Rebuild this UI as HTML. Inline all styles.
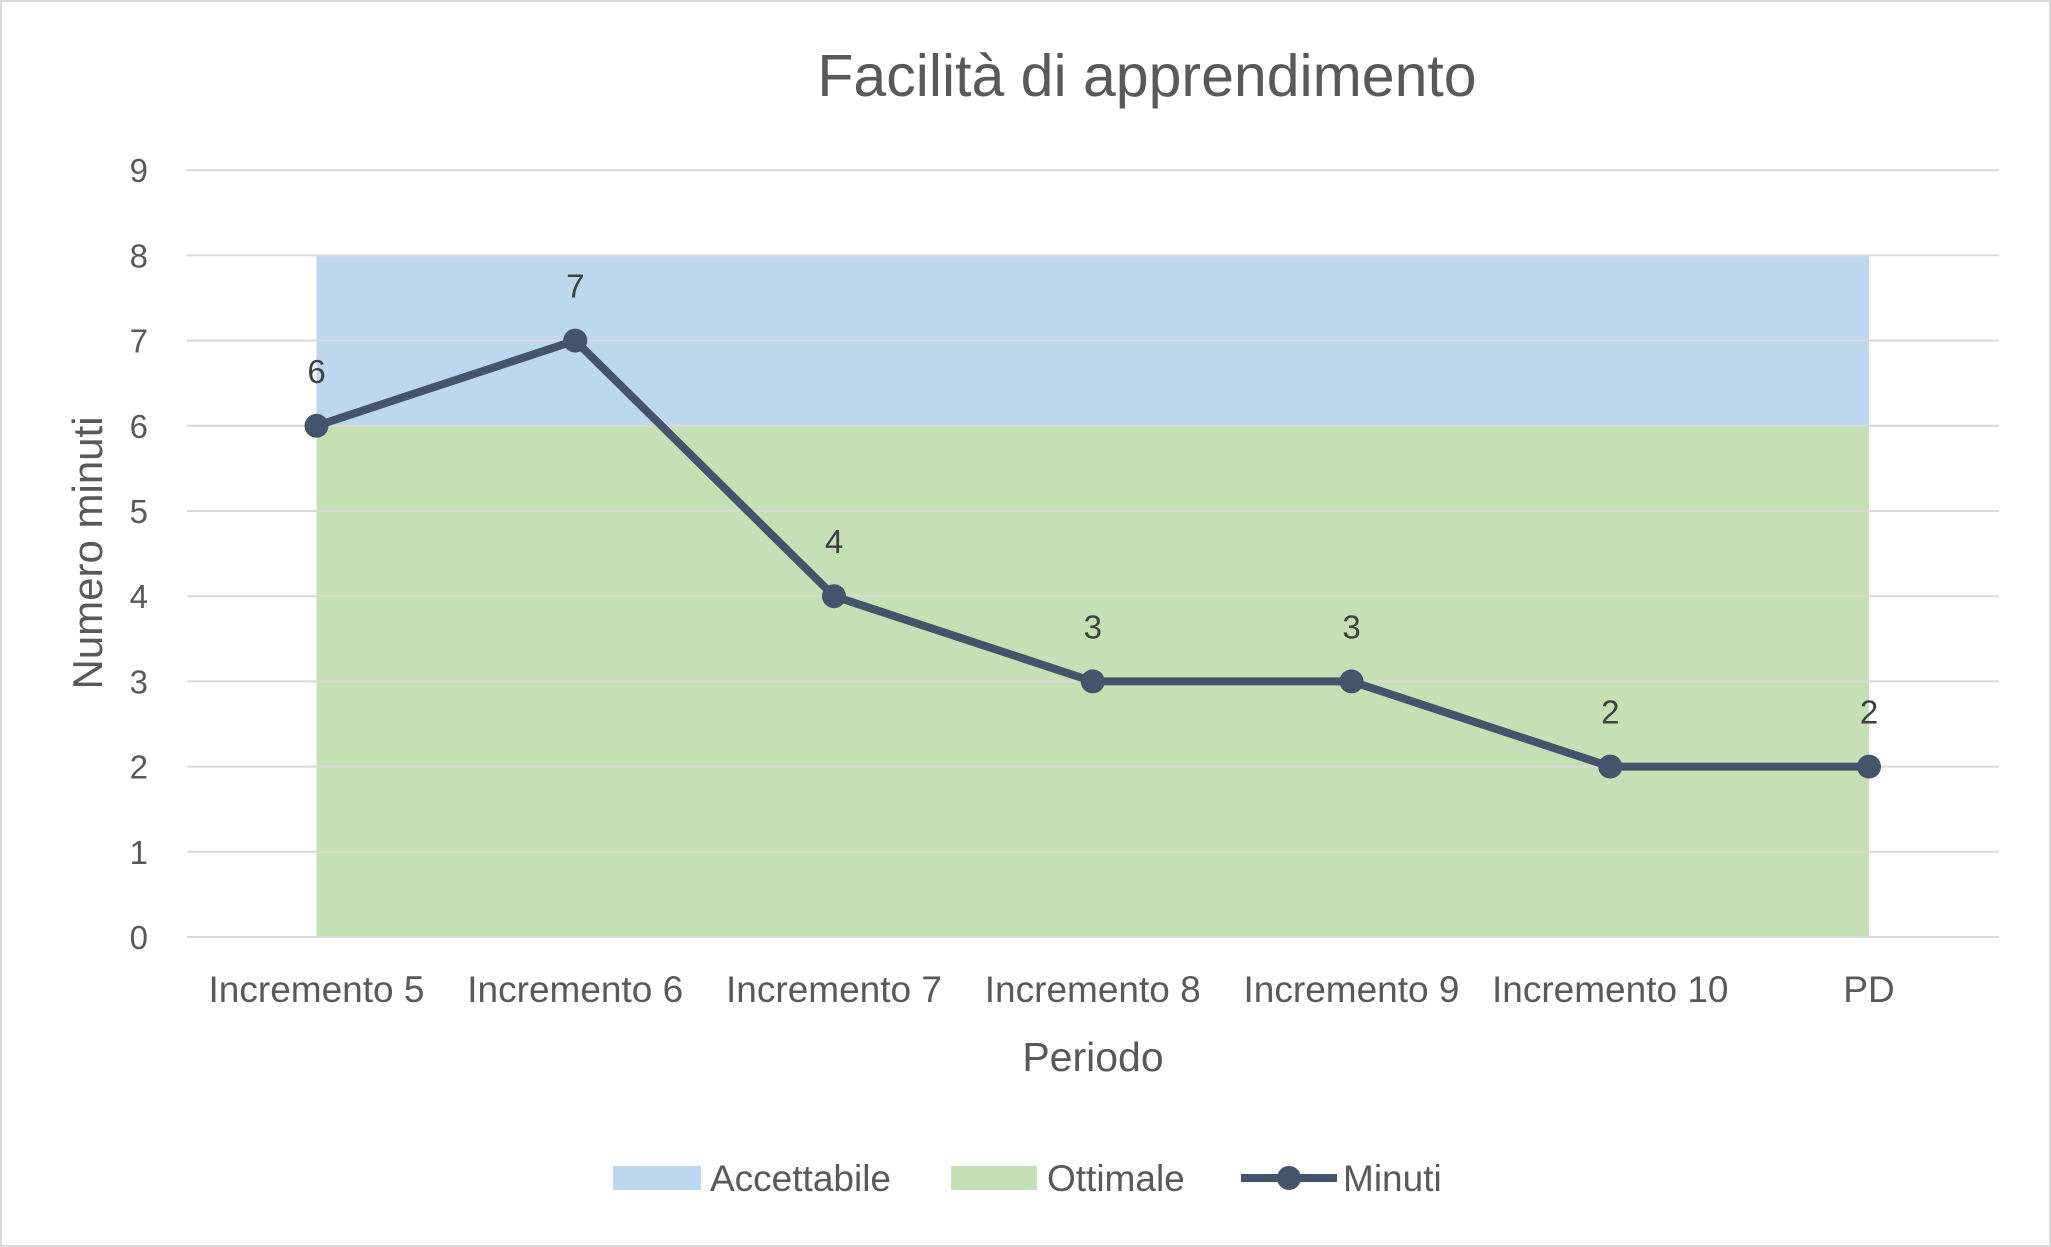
<!DOCTYPE html>
<html><head><meta charset="utf-8"><style>
body{margin:0;background:#fff}
svg{display:block;font-family:"Liberation Sans",sans-serif}
</style></head><body>
<svg id="chart" width="2051" height="1247">
<rect x="1" y="1" width="2049" height="1245" fill="#fff" stroke="#d9d9d9" stroke-width="2"/>
<text x="1147" y="96" font-size="59" fill="#595959" text-anchor="middle">Facilità di apprendimento</text>
<g id="bands"></g><g id="grid"></g><g id="ticks"></g><g id="cats"></g><g id="series"></g>
<text transform="translate(102,553) rotate(-90)" font-size="42" fill="#595959" text-anchor="middle">Numero minuti</text>
<text x="1093" y="1071" font-size="41" fill="#595959" text-anchor="middle">Periodo</text>
<g>
<rect x="613" y="1166" width="88" height="24" fill="#BDD7EE"/>
<text x="710" y="1191" font-size="37" fill="#595959">Accettabile</text>
<rect x="951" y="1166" width="86" height="24" fill="#C5E0B4"/>
<text x="1047" y="1191" font-size="37" fill="#595959">Ottimale</text>
<line x1="1241" y1="1178" x2="1337" y2="1178" stroke="#44546A" stroke-width="8"/>
<circle cx="1289" cy="1178" r="12" fill="#44546A"/>
<text x="1343" y="1191" font-size="37" fill="#595959">Minuti</text>
</g>
</svg>
<script>
const categories=["Incremento 5","Incremento 6","Incremento 7","Incremento 8","Incremento 9","Incremento 10","PD"];
const minuti=[6,7,4,3,3,2,2];
const ottimaleMax=6;
const accettabileMax=8;
const yTicks=[0,1,2,3,4,5,6,7,8,9];
const NS="http://www.w3.org/2000/svg";
const x0=316.5,step=258.75,yBase=937,yUnit=85.2,left=187,right=1999;
function xs(i){return x0+i*step;}
function ys(v){return yBase-v*yUnit;}
function mk(tag,attrs,parent,text){const e=document.createElementNS(NS,tag);for(const k in attrs)e.setAttribute(k,attrs[k]);if(text!==undefined)e.textContent=text;document.getElementById(parent).appendChild(e);return e;}
const xa=xs(0),xb=xs(categories.length-1);
let e=mk('rect',{x:xa,y:ys(accettabileMax),width:xb-xa,height:ys(ottimaleMax)-ys(accettabileMax),fill:'#BDD7EE'},'bands');


e=mk('rect',{x:xa,y:ys(ottimaleMax),width:xb-xa,height:ys(0)-ys(ottimaleMax),fill:'#C5E0B4'},'bands');


yTicks.forEach(t=>{
 let g=mk('line',{x1:left,x2:right,y1:ys(t),y2:ys(t),stroke:'#d9d9d9','stroke-width':2},'grid');
 
 
 let l=mk('text',{x:148,y:ys(t)+12,'font-size':33,fill:'#595959','text-anchor':'end'},'ticks',String(t));
 
 
});
categories.forEach((c,i)=>{
 let l=mk('text',{x:xs(i),y:1002,'font-size':37,fill:'#595959','text-anchor':'middle'},'cats',c);
 
 
});
let pts=minuti.map((v,i)=>xs(i)+','+ys(v)).join(' ');
let pl=mk('polyline',{points:pts,fill:'none',stroke:'#44546A','stroke-width':8,'stroke-linejoin':'round'},'series');


minuti.forEach((v,i)=>{
 let c=mk('circle',{cx:xs(i),cy:ys(v),r:12,fill:'#44546A'},'series');
 
 
 let l=mk('text',{x:xs(i),y:ys(v)-43,'font-size':33,fill:'#404040','text-anchor':'middle'},'series',String(v));
 
 
});
</script>
</body></html>
